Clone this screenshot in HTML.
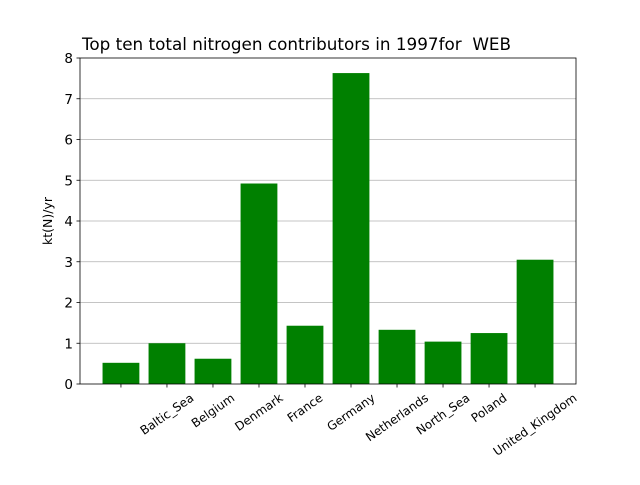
<!DOCTYPE html>
<html><head><meta charset="utf-8"><style>body{margin:0;background:#fff}svg{font-family:"DejaVu Sans","Liberation Sans",sans-serif}</style></head>
<body>
<svg id="chart" width="640" height="480" viewBox="0 0 640 480" xmlns="http://www.w3.org/2000/svg">
<rect width="640" height="480" fill="#fff"/>
<g id="grid"></g><g id="bars"></g><g id="axes"></g>
<text x="82" y="50" font-size="16.8" style="white-space:pre" xml:space="preserve">Top ten total nitrogen contributors in 1997for  WEB</text>
<text transform="translate(52,221) rotate(-90)" text-anchor="middle" font-size="12.5">kt(N)/yr</text>
</svg>
<script>
const categories = ["", "Baltic_Sea", "Belgium", "Denmark", "France", "Germany", "Netherlands", "North_Sea", "Poland", "United_Kingdom"];
const values = [0.52, 1.0, 0.62, 4.92, 1.43, 7.63, 1.33, 1.04, 1.25, 3.05];
const yTicks = [0, 1, 2, 3, 4, 5, 6, 7, 8];
const NS = "http://www.w3.org/2000/svg";
const L = 80, R = 576, T = 58, B = 384, yMax = 8;
const xMin = -0.89, xMax = categories.length - 1 + 0.89;
const xs = i => L + (i - xMin) / (xMax - xMin) * (R - L);
const ys = v => B - v / yMax * (B - T);
const bw = 0.8 * (R - L) / (xMax - xMin);
function mk(tag, attrs, parent, text) {
  const e = document.createElementNS(NS, tag);
  for (const k in attrs) e.setAttribute(k, attrs[k]);
  if (text !== undefined) e.textContent = text;
  document.getElementById(parent).appendChild(e);
  return e;
}
yTicks.forEach(t => {
  const y = ys(t);
  if (t > 0 && t < yMax) {
    const g = mk("line", {x1: L, x2: R, y1: y, y2: y, stroke: "#b0b0b0", "stroke-width": 0.8}, "grid");
    
    
  }
  const tk = mk("line", {x1: L - 3.5, x2: L, y1: y, y2: y, stroke: "#000", "stroke-width": 0.8}, "axes");
  
  
  const lb = mk("text", {x: L - 7, y: y + 5, "text-anchor": "end", "font-size": 13.5}, "axes", t);
  
  
});
const ang = 35 * Math.PI / 180, fh = 11;
values.forEach((v, i) => {
  const cx = xs(i);
  const b = mk("rect", {x: cx - bw / 2, y: ys(v), width: bw, height: B - ys(v), fill: "#008000"}, "bars");
  
  
  const tk = mk("line", {x1: cx, x2: cx, y1: B, y2: B + 3.5, stroke: "#000", "stroke-width": 0.8}, "axes");
  
  
  const lb = mk("text", {"text-anchor": "middle", "font-size": 12}, "axes", categories[i]);
  
  
  const w = lb.getComputedTextLength();
  const bh = w * Math.sin(ang) + fh * Math.cos(ang);
  const cy = B + 8 + bh / 2;
  lb.setAttribute("transform", `translate(${cx},${cy}) rotate(-35) translate(0,4)`);
});
const fr = mk("rect", {x: L, y: T, width: R - L, height: B - T, fill: "none", stroke: "#000", "stroke-width": 0.8}, "axes");


</script>
</body></html>
